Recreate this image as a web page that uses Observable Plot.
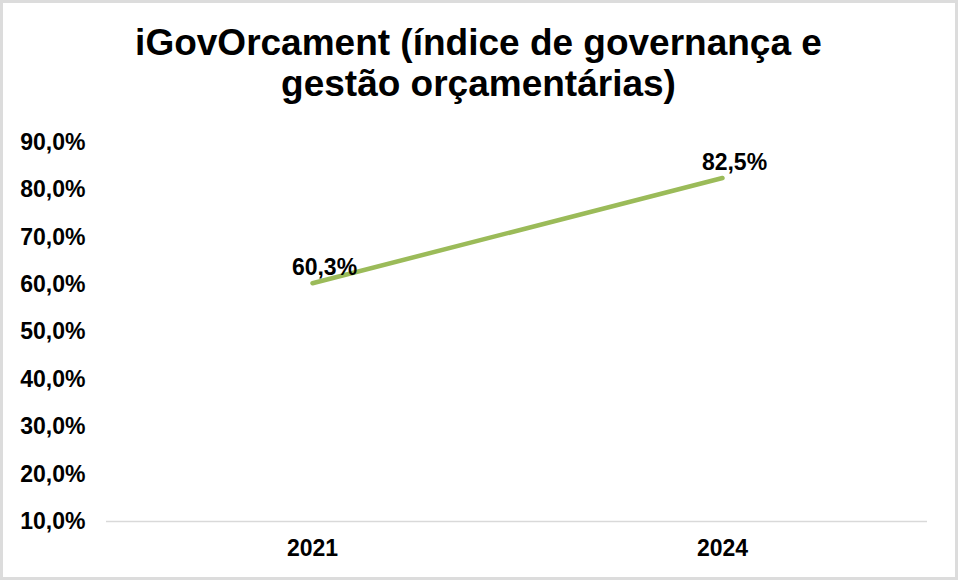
<!DOCTYPE html>
<html>
<head>
<meta charset="utf-8">
<script src="https://cdn.jsdelivr.net/npm/d3@7"></script>
<script src="https://cdn.jsdelivr.net/npm/@observablehq/plot@0.6"></script>
<style>
  html, body { margin: 0; padding: 0; background: #fff; }
  #wrap { position: relative; width: 960px; height: 581px; overflow: hidden; background: #fff; }
  #frame { position: absolute; left: 0; top: 0; width: 958px; height: 580px; border: 3px solid #dcdcdc; box-sizing: border-box; pointer-events: none; }
  #title { position: absolute; left: 0; width: 957px; top: 22px; text-align: center;
    font-family: "Liberation Sans", Arial, sans-serif; font-weight: bold; font-size: 37px; line-height: 41px; color: #000; }
  #chart { position: absolute; left: 0; top: 0; }
</style>
</head>
<body>
<div id="wrap">
  <div id="chart"></div>
  <div id="title">iGovOrcament (índice de governança e<br>gestão orçamentárias)</div>
  <div id="frame"></div>
</div>
<script>
const years = ["2021", "2024"];
const values = [60.3, 82.5];
const yTicks = [10, 20, 30, 40, 50, 60, 70, 80, 90];

const data = years.map((y, i) => ({year: y, value: values[i]}));
const fmt = v => v.toFixed(1).replace(".", ",") + "%";

const chart = Plot.plot({
  width: 960,
  height: 581,
  marginTop: 142,
  marginBottom: 60,
  marginLeft: 106,
  marginRight: 33,
  style: {fontFamily: "'Liberation Sans', Arial, sans-serif", fontWeight: "bold", fontSize: "23px", color: "#000", background: "transparent"},
  x: {type: "point", domain: years, padding: 0.5, label: null},
  y: {domain: [10, 90], label: null},
  marks: [
    Plot.ruleY([10], {stroke: "#d9d9d9", strokeWidth: 1.5}),
    Plot.axisY({ticks: yTicks, tickFormat: fmt, tickSize: 0, tickPadding: 21, label: null, fill: "#000"}),
    Plot.axisX({tickSize: 0, tickPadding: 18, label: null, fill: "#000"}),
    Plot.line(data, {x: "year", y: "value", stroke: "#9BBB59", strokeWidth: 4.5, strokeLinecap: "round"}),
    Plot.text(data, {x: "year", y: "value", text: d => fmt(d.value), dx: 12, dy: -8, lineAnchor: "bottom", fill: "#000"})
  ]
});
document.getElementById("chart").appendChild(chart);
</script>
</body>
</html>
